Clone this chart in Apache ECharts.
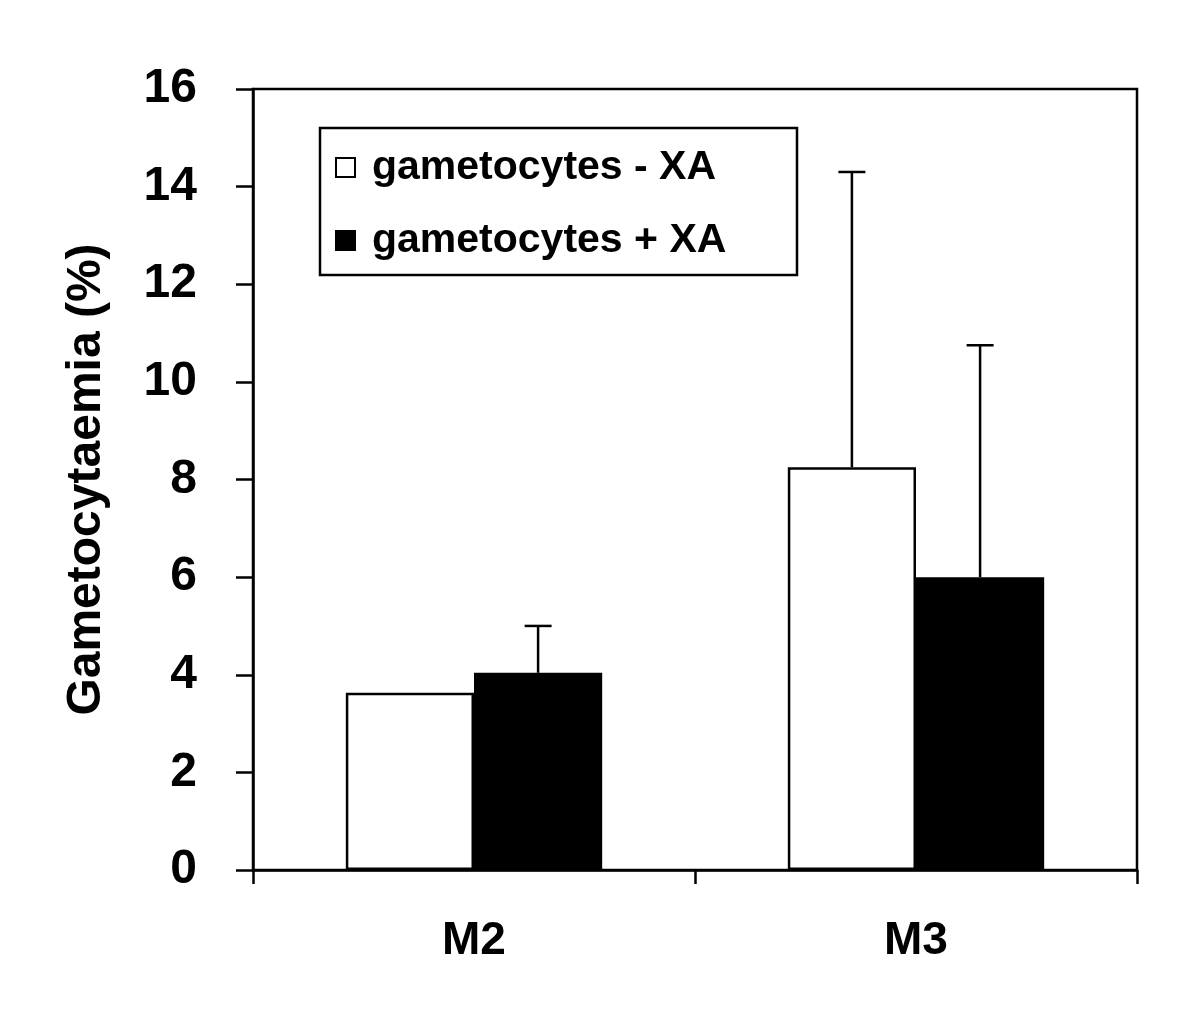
<!DOCTYPE html>
<html>
<head>
<meta charset="utf-8">
<script src="https://cdn.jsdelivr.net/npm/echarts@6/dist/echarts.min.js"></script>
<style>
html,body{margin:0;padding:0;background:#fff;}
#chart{width:1200px;height:1018px;}
</style>
</head>
<body>
<div id="chart"></div>
<script>
const categories = ['M2', 'M3'];
const seriesNames = ['gametocytes - XA', 'gametocytes + XA'];
const meanMinus = [3.63, 8.25];
const meanPlus = [4.04, 6.0];
const errMinus = [0, 6.05];
const errPlus = [0.96, 4.75];
const yTicks = [0, 2, 4, 6, 8, 10, 12, 14, 16];

const FONT = '"Liberation Sans", Arial, sans-serif';
const GAP_RATIO = 0.42;

function errorSeries(means, errs, idx) {
  const data = means.map((m, i) => [i, m, m + errs[i]]);
  return {
    type: 'custom',
    silent: true,
    z: 5,
    data: data,
    renderItem: function (params, api) {
      const ci = api.value(0);
      const top = api.value(2);
      const base = api.value(1);
      if (top <= base) return null;
      const band = api.size([1, 0])[0];
      const bw = band * (1 - GAP_RATIO) / 2;
      const p0 = api.coord([ci, base]);
      const p1 = api.coord([ci, top]);
      const x = p0[0] + (idx === 0 ? -bw / 2 : bw / 2);
      const cap = 13.5;
      const st = { stroke: '#000', lineWidth: 2.5 };
      return {
        type: 'group',
        children: [
          { type: 'line', shape: { x1: x, y1: p0[1], x2: x, y2: p1[1] }, style: st },
          { type: 'line', shape: { x1: x - cap, y1: p1[1], x2: x + cap, y2: p1[1] }, style: st }
        ]
      };
    }
  };
}

const chart = echarts.init(document.getElementById('chart'), null, { renderer: 'canvas' });
chart.setOption({
  animation: false,
  backgroundColor: '#fff',
  grid: {
    left: 253, right: 63, top: 89, bottom: 148,
    show: true, borderColor: '#000', borderWidth: 2.5, backgroundColor: 'transparent'
  },
  graphic: [{
    type: 'rect',
    shape: { x: 320, y: 128, width: 477, height: 147 },
    style: { fill: '#fff', stroke: '#000', lineWidth: 2.5 },
    z: 10
  }],
  legend: {
    orient: 'vertical',
    left: 335, top: 147,
    padding: 0,
    itemWidth: 19, itemHeight: 19,
    itemGap: 32,
    icon: 'rect',
    z: 20,
    textStyle: { fontFamily: FONT, fontWeight: 'bold', fontSize: 41, color: '#000', lineHeight: 40, padding: [0, 0, 0, 12] },
    data: seriesNames
  },
  xAxis: {
    type: 'category',
    data: categories,
    axisLine: { lineStyle: { color: '#000', width: 2.5 } },
    axisTick: { show: true, length: 14, lineStyle: { color: '#000', width: 2.5 } },
    axisLabel: { fontFamily: FONT, fontWeight: 'bold', fontSize: 46, color: '#000', margin: 48 },
    splitLine: { show: false }
  },
  yAxis: {
    type: 'value',
    min: yTicks[0], max: yTicks[yTicks.length - 1], interval: 2,
    name: 'Gametocytaemia (%)',
    nameLocation: 'middle',
    nameGap: 142,
    nameTextStyle: { fontFamily: FONT, fontWeight: 'bold', fontSize: 48, color: '#000' },
    axisLine: { show: true, lineStyle: { color: '#000', width: 2.5 } },
    axisTick: { show: true, length: 17, lineStyle: { color: '#000', width: 2.5 } },
    axisLabel: { fontFamily: FONT, fontWeight: 'bold', fontSize: 48, color: '#000', margin: 56 },
    splitLine: { show: false }
  },
  series: [
    {
      name: seriesNames[0], type: 'bar', data: meanMinus,
      barGap: '0%', barCategoryGap: (GAP_RATIO * 100) + '%',
      itemStyle: { color: '#fff', borderColor: '#000', borderWidth: 2.5 }
    },
    {
      name: seriesNames[1], type: 'bar', data: meanPlus,
      itemStyle: { color: '#000', borderColor: '#000', borderWidth: 2.5 }
    },
    errorSeries(meanMinus, errMinus, 0),
    errorSeries(meanPlus, errPlus, 1)
  ]
});
</script>
</body>
</html>
